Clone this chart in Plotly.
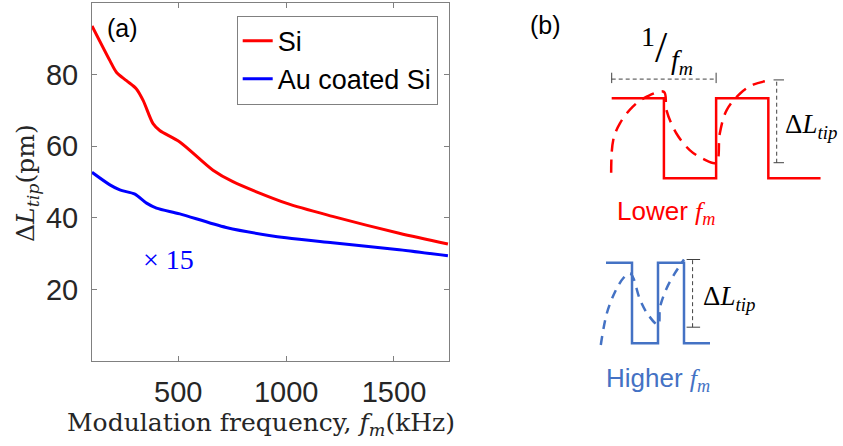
import plotly.graph_objects as go

W, H = 843, 446

# ---------------- panel (a) data ----------------
freq_si = [100, 183, 214, 260, 306, 337, 383, 414, 507, 661, 753, 1000, 1215, 1524, 1750]
dl_si = [93.6, 83.9, 80.6, 78.3, 76.0, 72.8, 66.3, 64.4, 61.2, 53.3, 50.1, 44.1, 40.4, 35.7, 32.7]
freq_au = [100, 183, 229, 299, 353, 399, 507, 722, 1000, 1215, 1524, 1750]
dl_au = [52.7, 49.2, 47.8, 46.6, 44.1, 42.7, 41.1, 37.3, 34.4, 33.0, 31.1, 29.4]
x_ticks = [500, 1000, 1500]
y_ticks = [20, 40, 60, 80]

# ---------------- panel (b) schematic (t in half-periods, level 0..1) ----------------
sq_t = [0, 1, 1, 2, 2, 3, 3, 4]
sq_level = [1, 1, 0, 0, 1, 1, 0, 0]
red_resp_t = [-0.01, 0.03, 0.16, 0.41, 0.67, 1.0, 1.05, 1.24, 1.5, 1.76, 2.0, 2.07, 2.2, 2.46, 2.71, 3.06]
red_resp_level = [0.07, 0.48, 0.69, 0.9, 1.02, 1.08, 0.85, 0.56, 0.35, 0.24, 0.195, 0.56, 0.85, 1.06, 1.17, 1.23]
blue_resp_t = [-0.2, 0.03, 0.35, 0.67, 0.92, 1.05, 1.31, 1.63, 2.01, 2.08, 2.33, 2.65, 3.0]
blue_resp_level = [-0.02, 0.37, 0.64, 0.81, 0.87, 0.81, 0.54, 0.35, 0.23, 0.45, 0.68, 0.87, 1.04]

RED = "#FF0000"
BLUE = "#0000FF"
SBLUE = "#4472C4"
GREY = "#404040"
AXC = "#808080"

def px(x):
    return x / W

def py(y):
    return 1 - y / H

fig = go.Figure()

fig.add_trace(go.Scatter(x=freq_si, y=dl_si, mode="lines", name="Si",
                         line=dict(color=RED, width=3, shape="spline", smoothing=0.8)))
fig.add_trace(go.Scatter(x=freq_au, y=dl_au, mode="lines", name="Au coated Si",
                         line=dict(color=BLUE, width=3, shape="spline", smoothing=0.8)))

# red schematic
fig.add_trace(go.Scatter(x=sq_t, y=sq_level, mode="lines", xaxis="x2", yaxis="y2",
                         line=dict(color=RED, width=2.5), showlegend=False))
fig.add_trace(go.Scatter(x=red_resp_t, y=red_resp_level, mode="lines", xaxis="x2", yaxis="y2",
                         line=dict(color=RED, width=2.5, dash="13px,8px", shape="spline"),
                         showlegend=False))
# period bracket
fig.add_trace(go.Scatter(x=[0, 2], y=[1.24, 1.24], mode="lines", xaxis="x2", yaxis="y2",
                         line=dict(color=GREY, width=1, dash="4px,3px"), showlegend=False))
for tt in [0, 2]:
    fig.add_trace(go.Scatter(x=[tt, tt], y=[1.19, 1.32], mode="lines", xaxis="x2", yaxis="y2",
                             line=dict(color=GREY, width=1), showlegend=False))
# amplitude bracket red
fig.add_trace(go.Scatter(x=[3.16, 3.16], y=[0.195, 1.23], mode="lines", xaxis="x2", yaxis="y2",
                         line=dict(color=GREY, width=1, dash="4px,3px"), showlegend=False))
for lv in [0.195, 1.23]:
    fig.add_trace(go.Scatter(x=[3.1, 3.3], y=[lv, lv], mode="lines", xaxis="x2", yaxis="y2",
                             line=dict(color=GREY, width=1), showlegend=False))

# blue schematic
fig.add_trace(go.Scatter(x=sq_t, y=sq_level, mode="lines", xaxis="x3", yaxis="y3",
                         line=dict(color=SBLUE, width=2.5), showlegend=False))
fig.add_trace(go.Scatter(x=blue_resp_t, y=blue_resp_level, mode="lines", xaxis="x3", yaxis="y3",
                         line=dict(color=SBLUE, width=2.5, dash="9px,7px", shape="spline"),
                         showlegend=False))
fig.add_trace(go.Scatter(x=[3.33, 3.33], y=[0.2, 1.04], mode="lines", xaxis="x3", yaxis="y3",
                         line=dict(color=GREY, width=1, dash="4px,3px"), showlegend=False))
for lv in [0.2, 1.04]:
    fig.add_trace(go.Scatter(x=[3.1, 3.62], y=[lv, lv], mode="lines", xaxis="x3", yaxis="y3",
                             line=dict(color=GREY, width=1), showlegend=False))

ax_common = dict(showline=True, linecolor=AXC, linewidth=1, mirror="ticks", ticks="inside",
                 ticklen=5, tickcolor=AXC, showgrid=False, zeroline=False,
                 tickfont=dict(family="Liberation Sans, Arial", size=29, color="#262626"))

fig.update_layout(
    width=W, height=H, margin=dict(l=0, r=0, t=0, b=0),
    paper_bgcolor="white", plot_bgcolor="white",
    xaxis=dict(domain=[px(92), px(449)], range=[100, 1755], tickvals=x_ticks,
               ticklabelstandoff=5, **ax_common),
    yaxis=dict(domain=[py(361), py(3)], range=[0, 100], tickvals=y_ticks,
               ticklabelstandoff=7, **ax_common),
    xaxis2=dict(domain=[0.69, 1.0], range=[-0.575, 4.43], visible=False),
    yaxis2=dict(domain=[0.4843, 0.8655], range=[-0.646, 1.479], visible=False),
    xaxis3=dict(domain=[px(580), 1.0], range=[-1.0, 9.115], visible=False),
    yaxis3=dict(domain=[0.1928, 0.4619], range=[-0.207, 1.282], visible=False),
    legend=dict(x=px(437.7), xanchor="right", y=py(15.7), yanchor="top",
                bgcolor="white", bordercolor=AXC, borderwidth=1,
                font=dict(family="Liberation Sans, Arial", size=27, color="black"),
                tracegroupgap=0),
    showlegend=True,
)

SERIF = "DejaVu Serif"
MATH = "Liberation Serif"
ann = []
def add_text(x, y, text, size, color="black", family="Liberation Sans, Arial", xanchor="center"):
    ann.append(dict(x=px(x), y=py(y), xref="paper", yref="paper", text=text, showarrow=False,
                    font=dict(family=family, size=size, color=color), xanchor=xanchor, yanchor="middle"))

add_text(122, 28, "(a)", 25)
add_text(545, 25, "(b)", 25)
add_text(168, 259, "× 15", 28, BLUE, MATH)
add_text(261, 424, "Modulation frequency, <i>f<sub>m</sub></i>(kHz)", 25, "#262626", SERIF)
ann.append(dict(x=px(27), y=py(183), xref="paper", yref="paper",
                text="Δ<i>L<sub>tip</sub></i>(pm)", showarrow=False, textangle=-90,
                font=dict(family=SERIF, size=25, color="#262626"), xanchor="center", yanchor="middle"))
add_text(648, 36, "1", 28, "black", MATH)
add_text(661, 48, "/", 44, "black", MATH)
add_text(682, 62, "<i>f<sub>m</sub></i>", 28, "black", MATH)
add_text(811, 126, "Δ<i>L<sub>tip</sub></i>", 27, "black", MATH)
add_text(729, 298, "Δ<i>L<sub>tip</sub></i>", 27, "black", MATH)
add_text(666, 212, "Lower <i><span style='font-family:Liberation Serif'>f<sub>m</sub></span></i>", 26, RED)
add_text(658, 379, "Higher <i><span style='font-family:Liberation Serif'>f<sub>m</sub></span></i>", 26, SBLUE)
fig.update_layout(annotations=ann)

fig.write_html("out.html")
